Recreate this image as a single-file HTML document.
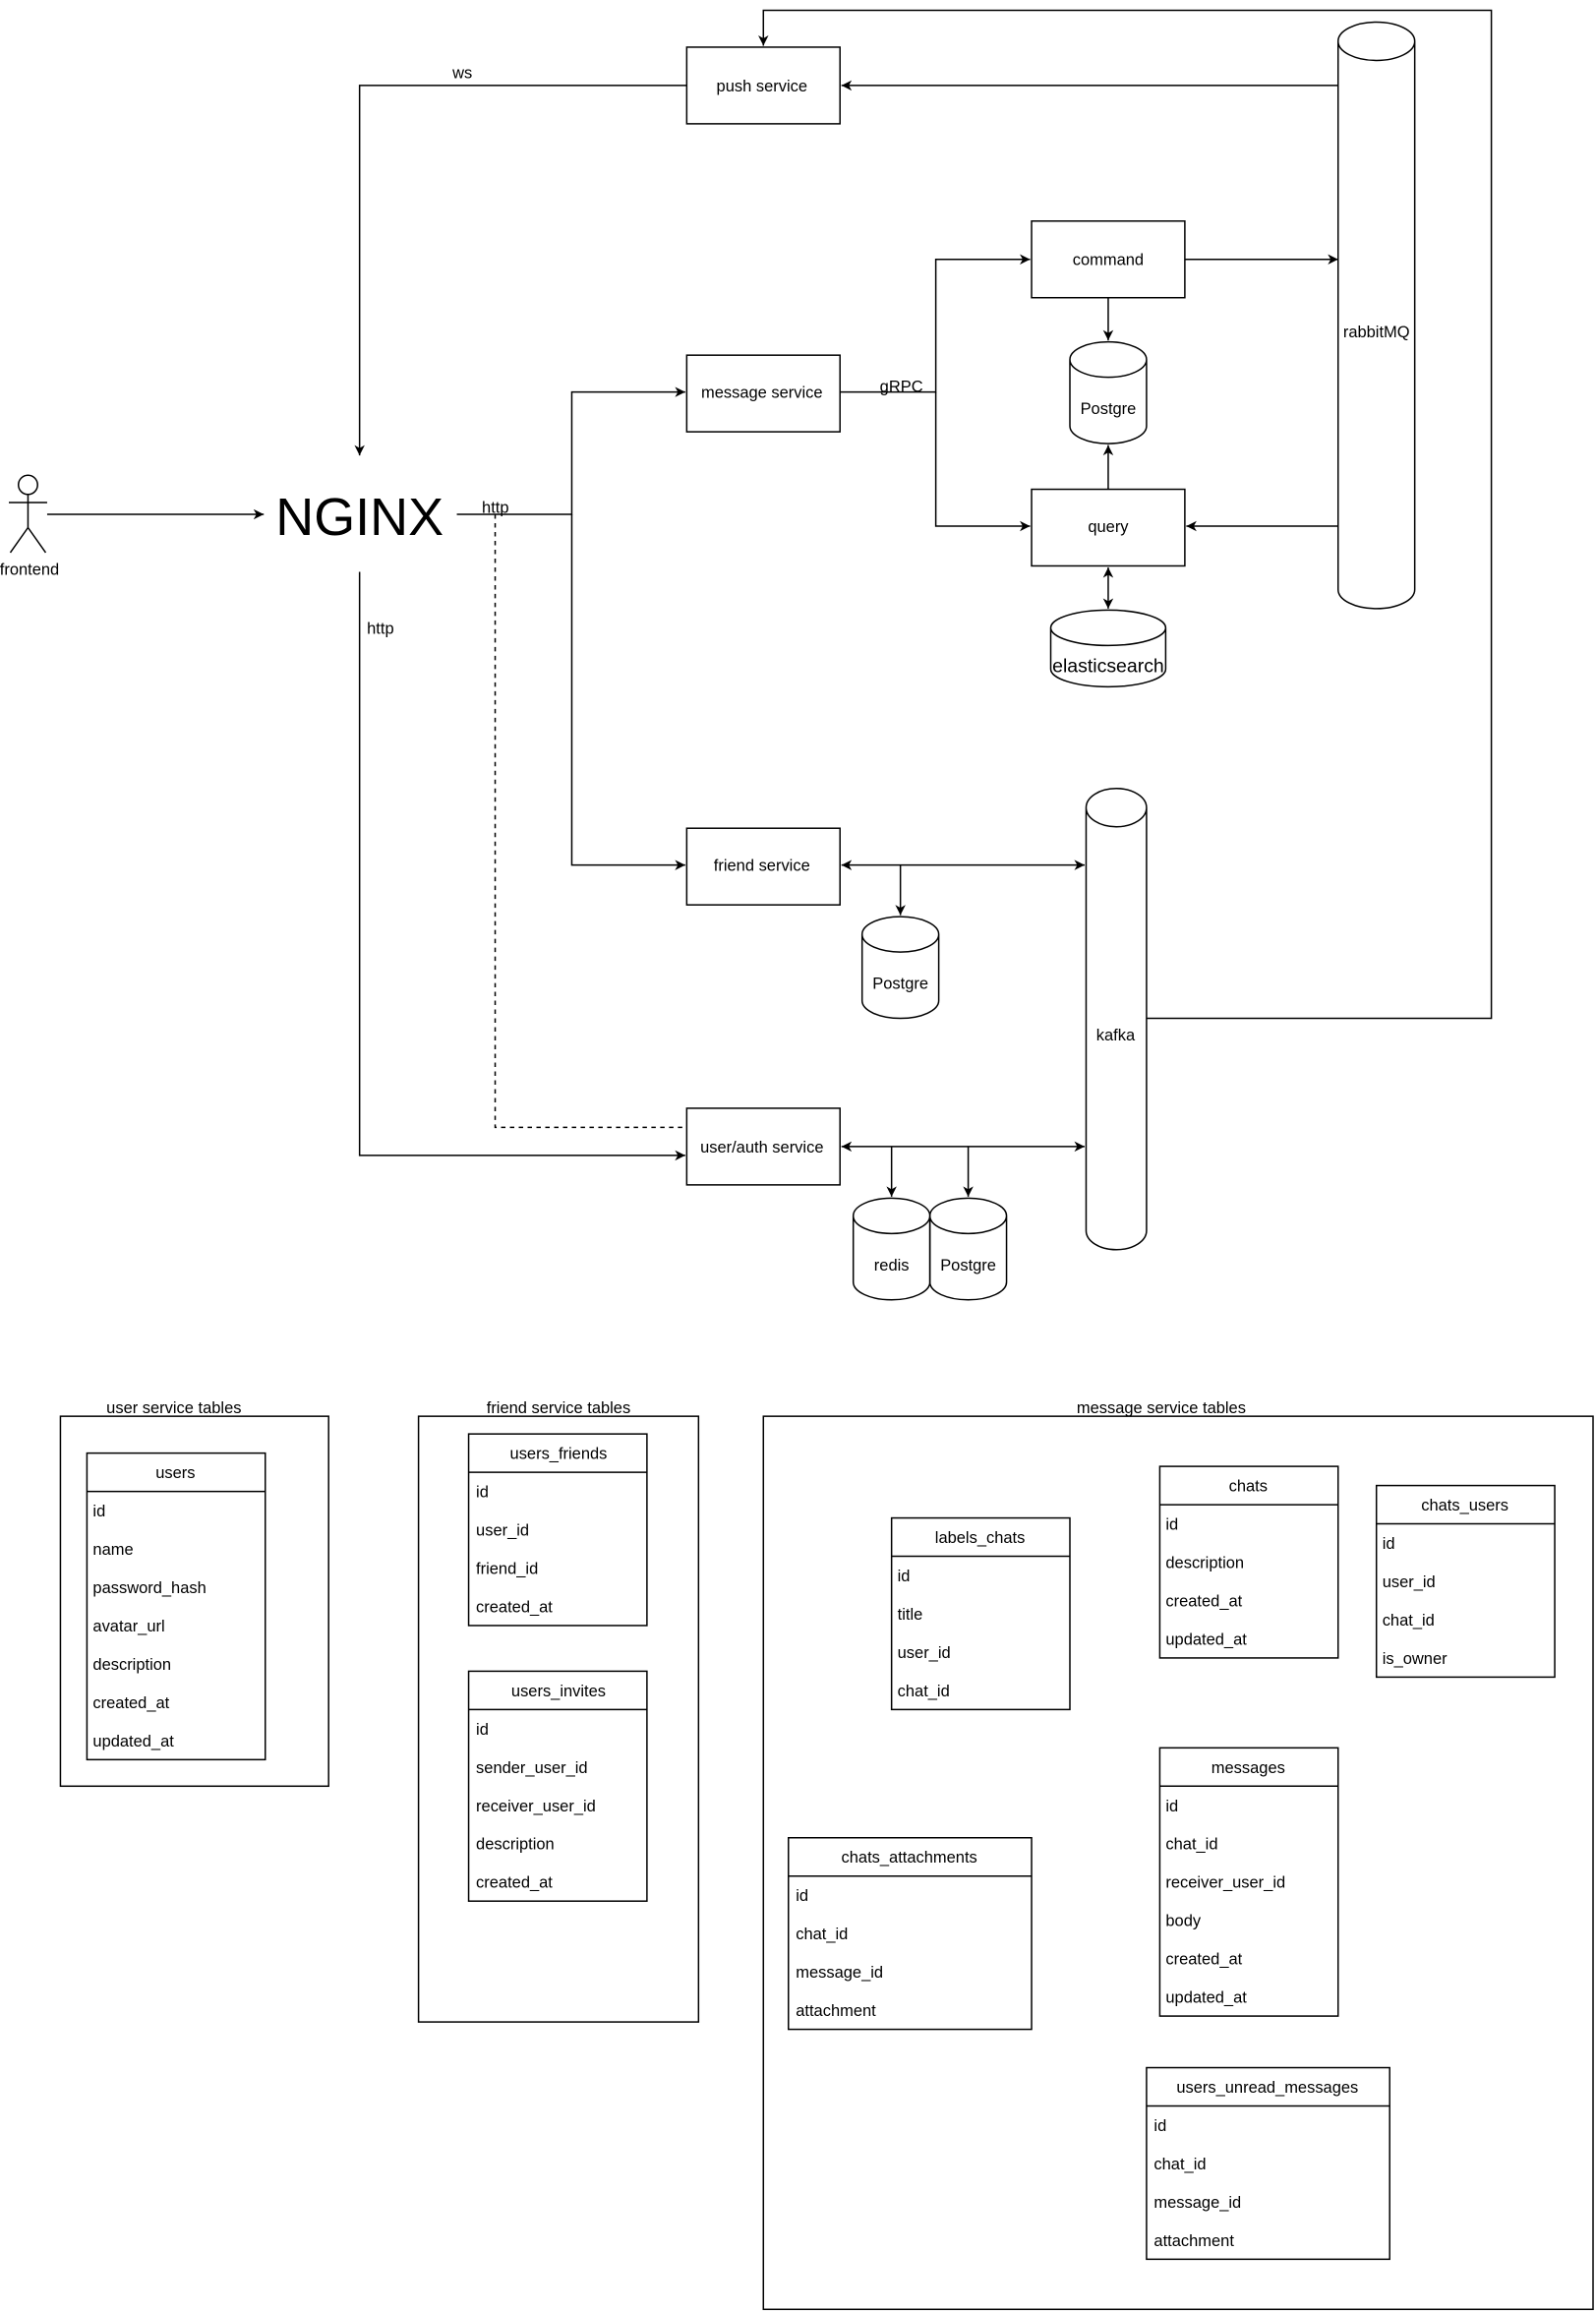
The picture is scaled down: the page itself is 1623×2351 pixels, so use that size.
<!DOCTYPE html>
<html><head><meta charset="utf-8"><style>html,body{margin:0;padding:0;background:#fff}svg{display:block}</style></head>
<body>
<svg width="1623" height="2351" viewBox="0 0 1083 1568.8" preserveAspectRatio="none" xmlns="http://www.w3.org/2000/svg" font-family="Liberation Sans, sans-serif" font-size="11">
<defs><marker id="a" markerWidth="8" markerHeight="8" refX="7" refY="4" orient="auto-start-reverse" markerUnits="userSpaceOnUse"><path d="M0,0.5 L7,4 L0,7.5 L2,4 z" fill="#000"/></marker></defs>
<g fill="none" stroke="#000" stroke-width="1">
<rect x="466" y="32" width="104" height="52"/>
<rect x="700" y="150" width="104" height="52"/>
<rect x="466" y="241" width="104" height="52"/>
<rect x="700" y="332" width="104" height="52"/>
<rect x="466" y="562" width="104" height="52"/>
<rect x="466" y="752" width="104" height="52"/>
<path d="M908,28 A26,13 0 0 1 960,28 V400 A26,13 0 0 1 908,400 Z M908,28 A26,13 0 0 0 960,28"/>
<path d="M726,244 A26,12 0 0 1 778,244 V289 A26,12 0 0 1 726,289 Z M726,244 A26,12 0 0 0 778,244"/>
<path d="M713,426 A39,12 0 0 1 791,426 V454 A39,12 0 0 1 713,454 Z M713,426 A39,12 0 0 0 791,426"/>
<path d="M737,548 A20.5,13 0 0 1 778,548 V835 A20.5,13 0 0 1 737,835 Z M737,548 A20.5,13 0 0 0 778,548"/>
<path d="M585,634 A26,12 0 0 1 637,634 V679 A26,12 0 0 1 585,679 Z M585,634 A26,12 0 0 0 637,634"/>
<path d="M579,825 A26,12 0 0 1 631,825 V870 A26,12 0 0 1 579,870 Z M579,825 A26,12 0 0 0 631,825"/>
<path d="M631,825 A26,12 0 0 1 683,825 V870 A26,12 0 0 1 631,870 Z M631,825 A26,12 0 0 0 683,825"/>
<circle cx="19" cy="329" r="6.5"/>
<path d="M19,335.5 V358 M6,341 H32 M19,358 L7,375 M19,358 L31,375"/>
<path d="M32,349 H179" marker-end="url(#a)"/>
<path d="M310,349 H388 V266 H465" marker-end="url(#a)"/>
<path d="M388,349 V587 H465" marker-end="url(#a)"/>
<path d="M336,349 V765 H466" stroke-dasharray="3,3"/>
<path d="M244,388 V784 H465" marker-end="url(#a)"/>
<path d="M466,58 H244 V309" marker-end="url(#a)"/>
<path d="M908,58 H571" marker-end="url(#a)"/>
<path d="M778,691 H1012 V7 H518 V31" marker-end="url(#a)"/>
<path d="M570,266 H635 V176 H699" marker-end="url(#a)"/>
<path d="M635,266 V357 H699" marker-end="url(#a)"/>
<path d="M804,176 H908" marker-end="url(#a)"/>
<path d="M752,202 V231" marker-end="url(#a)"/>
<path d="M752,332 V302" marker-end="url(#a)"/>
<path d="M752,385 V413" marker-start="url(#a)" marker-end="url(#a)"/>
<path d="M908,357 H805" marker-end="url(#a)"/>
<path d="M571,587 H736" marker-start="url(#a)" marker-end="url(#a)"/>
<path d="M611,587 V621" marker-end="url(#a)"/>
<path d="M571,778 H736" marker-start="url(#a)" marker-end="url(#a)"/>
<path d="M605,778 V812" marker-end="url(#a)"/>
<path d="M657,778 V812" marker-end="url(#a)"/>
<rect x="41" y="961" width="182" height="251"/>
<rect x="284" y="961" width="190" height="411"/>
<rect x="518" y="961" width="563" height="606"/>
<rect x="59" y="986" width="121" height="208"/><path d="M59,1012 H180"/>
<rect x="318" y="973" width="121" height="130"/><path d="M318,999 H439"/>
<rect x="318" y="1134" width="121" height="156"/><path d="M318,1160 H439"/>
<rect x="605" y="1030" width="121" height="130"/><path d="M605,1056 H726"/>
<rect x="787" y="995" width="121" height="130"/><path d="M787,1021 H908"/>
<rect x="934" y="1008" width="121" height="130"/><path d="M934,1034 H1055"/>
<rect x="787" y="1186" width="121" height="182"/><path d="M787,1212 H908"/>
<rect x="535" y="1247" width="165" height="130"/><path d="M535,1273 H700"/>
<rect x="778" y="1403" width="165" height="130"/><path d="M778,1429 H943"/>
</g>
<g fill="#000">
<g text-anchor="middle">
<text x="517" y="62">push service</text>
<text x="752" y="180">command</text>
<text x="517" y="270">message service</text>
<text x="752" y="361">query</text>
<text x="517" y="591">friend service</text>
<text x="517" y="782">user/auth service</text>
<text x="934" y="229">rabbitMQ</text>
<text x="752" y="281">Postgre</text>
<text x="752" y="456" font-size="13">elasticsearch</text>
<text x="757" y="706">kafka</text>
<text x="611" y="671">Postgre</text>
<text x="605" y="862">redis</text>
<text x="657" y="862">Postgre</text>
<text x="20" y="390">frontend</text>
<text x="244" y="363" font-size="36">NGINX</text>
<text x="118" y="959">user service tables</text>
<text x="379" y="959">friend service tables</text>
<text x="788" y="959">message service tables</text>
<text x="119" y="1003">users</text>
<text x="379" y="990">users_friends</text>
<text x="379" y="1151">users_invites</text>
<text x="665" y="1047">labels_chats</text>
<text x="847" y="1012">chats</text>
<text x="994" y="1025">chats_users</text>
<text x="847" y="1203">messages</text>
<text x="617" y="1264">chats_attachments</text>
<text x="860" y="1420">users_unread_messages</text>
</g>
<text x="307" y="53">ws</text>
<text x="327" y="348">http</text>
<text x="249" y="430">http</text>
<text x="597" y="266">gRPC</text>
<g>
<text x="63" y="1029">id</text><text x="63" y="1055">name</text><text x="63" y="1081">password_hash</text><text x="63" y="1107">avatar_url</text><text x="63" y="1133">description</text><text x="63" y="1159">created_at</text><text x="63" y="1185">updated_at</text>
<text x="323" y="1016">id</text><text x="323" y="1042">user_id</text><text x="323" y="1068">friend_id</text><text x="323" y="1094">created_at</text>
<text x="323" y="1177">id</text><text x="323" y="1203">sender_user_id</text><text x="323" y="1229">receiver_user_id</text><text x="323" y="1255">description</text><text x="323" y="1281">created_at</text>
<text x="609" y="1073">id</text><text x="609" y="1099">title</text><text x="609" y="1125">user_id</text><text x="609" y="1151">chat_id</text>
<text x="791" y="1038">id</text><text x="791" y="1064">description</text><text x="791" y="1090">created_at</text><text x="791" y="1116">updated_at</text>
<text x="938" y="1051">id</text><text x="938" y="1077">user_id</text><text x="938" y="1103">chat_id</text><text x="938" y="1129">is_owner</text>
<text x="791" y="1229">id</text><text x="791" y="1255">chat_id</text><text x="791" y="1281">receiver_user_id</text><text x="791" y="1307">body</text><text x="791" y="1333">created_at</text><text x="791" y="1359">updated_at</text>
<text x="540" y="1290">id</text><text x="540" y="1316">chat_id</text><text x="540" y="1342">message_id</text><text x="540" y="1368">attachment</text>
<text x="783" y="1446">id</text><text x="783" y="1472">chat_id</text><text x="783" y="1498">message_id</text><text x="783" y="1524">attachment</text>
</g>
</g>
</svg>
</body></html>
